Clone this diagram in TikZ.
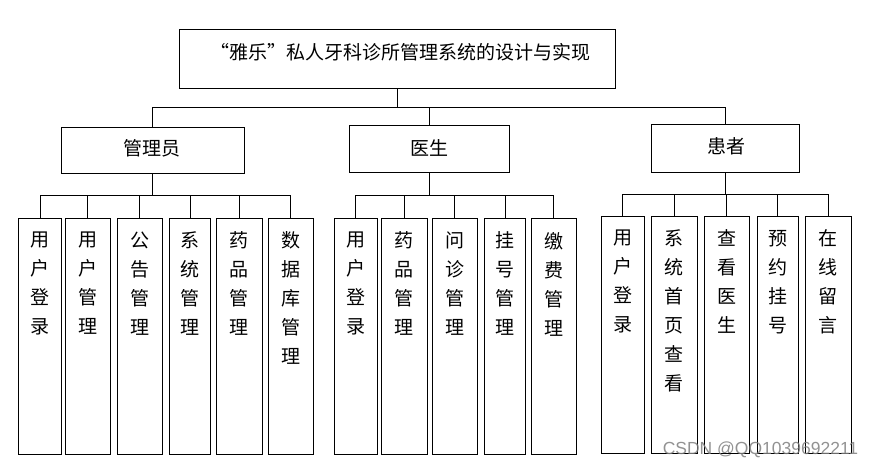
\documentclass[tikz,border=0pt]{standalone}
\usepackage{fontspec}
\setmainfont{Noto Sans CJK SC}
\newfontfamily\wmfont{Liberation Sans}
\newcommand\leafbox[6]{%
  \node[box, minimum width={#3-#2}, minimum height={#5-#4}] (#1) at ({(#2+#3)/2},{(#4+#5)/2}) {};
  \node[leaftext, anchor=north] (#1t) at ([yshift=-13.5pt]#1.north) {#6};}
\begin{document}
\begin{tikzpicture}[x=1pt,y=-1pt,
  box/.style={draw=black, line width=0.9pt, inner sep=0pt, outer sep=0pt},
  leaftext/.style={inner sep=0pt, align=center, font=\fontsize{19}{29}\selectfont},
  midtext/.style={inner sep=0pt, font=\fontsize{19}{23}\selectfont},
  conn/.style={draw=black, line width=0.9pt},
  wmark/.style={font=\wmfont\fontsize{17.5}{17.5}\selectfont, text=gray, opacity=0.85}]
\useasboundingbox[fill=white] (0,0) rectangle (875,469);
% root
\node[box, minimum width=436, minimum height=59] (root) at (397.3,58.8) {};
\node[midtext] (roott) at (400.5,52) {“雅乐”私人牙科诊所管理系统的设计与实现};
% second level
\node[box, minimum width=183, minimum height=46] (adm) at (152.8,150.3) {};
\node[midtext] (admt) at (152,148) {管理员};
\node[box, minimum width=160, minimum height=47] (doc) at (429.3,148.8) {};
\node[midtext] (doct) at (429.5,148) {医生};
\node[box, minimum width=148, minimum height=48] (pat) at (725.3,148.3) {};
\node[midtext] (patt) at (726,146) {患者};
% leaves
\leafbox{a1}{18.3}{61.7}{218.3}{454.3}{用\\户\\登\\录}
\leafbox{a2}{65.3}{110.3}{218.3}{454.3}{用\\户\\管\\理}
\leafbox{a3}{117.3}{162.3}{218.3}{454.3}{公\\告\\管\\理}
\leafbox{a4}{169.3}{210.7}{218.3}{454.3}{系\\统\\管\\理}
\leafbox{a5}{216.3}{262.3}{218.3}{454.3}{药\\品\\管\\理}
\leafbox{a6}{268.3}{313.3}{218.3}{454.3}{数\\据\\库\\管\\理}
\leafbox{d1}{334.3}{377.3}{218.3}{454.3}{用\\户\\登\\录}
\leafbox{d2}{381.3}{427.3}{218.3}{454.3}{药\\品\\管\\理}
\leafbox{d3}{432.5}{477.3}{218.3}{454.3}{问\\诊\\管\\理}
\leafbox{d4}{484.3}{525.7}{218.3}{454.3}{挂\\号\\管\\理}
\leafbox{d5}{531.3}{576.3}{218.3}{454.3}{缴\\费\\管\\理}
\leafbox{p1}{601.3}{644.3}{216.3}{453.3}{用\\户\\登\\录}
\leafbox{p2}{651.3}{697.3}{216.3}{453.3}{系\\统\\首\\页\\查\\看}
\leafbox{p3}{704.3}{749.3}{216.3}{453.3}{查\\看\\医\\生}
\leafbox{p4}{757.3}{798.3}{216.3}{453.3}{预\\约\\挂\\号}
\leafbox{p5}{805.3}{851.3}{216.3}{453.3}{在\\线\\留\\言}
% connectors
\foreach \c in {adm,doc,pat} \draw[conn] (root.south) -- ++(0,18.7) -| (\c.north);
\foreach \c in {a1,a2,a3,a4,a5,a6} \draw[conn] (adm.south) -- ++(0,22) -| (\c.north);
\foreach \c in {d1,d2,d3,d4,d5} \draw[conn] (doc.south) -- ++(0,23) -| (\c.north);
\foreach \c in {p1,p2,p3,p4,p5} \draw[conn] (pat.south) -- ++(0,22) -| (\c.north);
% watermark
\node[wmark] (wm) at (760.5,450) {CSDN @QQ1039692211};
\end{tikzpicture}
\end{document}
